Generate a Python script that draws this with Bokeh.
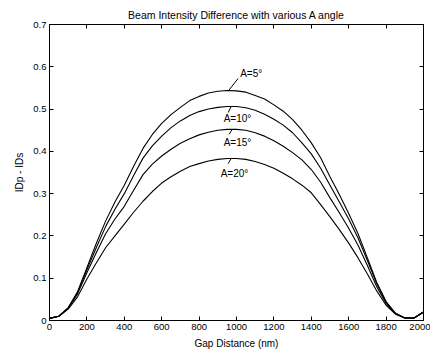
from bokeh.plotting import figure
from bokeh.models import LinearAxis, FixedTicker, Label, Range1d
from bokeh.embed import file_html
from bokeh.resources import INLINE

title_text = "Beam Intensity Difference with various A angle"
x_label = "Gap Distance (nm)"
y_label = "IDp - IDs"

gap_nm = [0, 50, 100, 150, 200, 250, 300, 350, 400, 450, 500, 550, 600, 650, 700, 750, 800, 850, 900, 950,
          1000, 1050, 1100, 1150, 1200, 1250, 1300, 1350, 1400, 1450, 1500, 1550, 1600, 1650, 1700, 1750,
          1800, 1850, 1900, 1950, 2000]
a5 = [0.005, 0.010, 0.030, 0.068, 0.125, 0.182, 0.235, 0.280, 0.320, 0.365, 0.407, 0.440, 0.466, 0.487,
      0.504, 0.520, 0.530, 0.538, 0.542, 0.544,
      0.543, 0.540, 0.532, 0.524, 0.510, 0.495, 0.475, 0.450, 0.420, 0.385, 0.340, 0.298, 0.253, 0.205,
      0.148, 0.090, 0.045, 0.017, 0.006, 0.006, 0.020]
a10 = [0.005, 0.010, 0.030, 0.066, 0.120, 0.172, 0.222, 0.263, 0.300, 0.343, 0.384, 0.413, 0.436, 0.456,
       0.472, 0.485, 0.494, 0.500, 0.504, 0.506,
       0.506, 0.503, 0.497, 0.488, 0.476, 0.462, 0.444, 0.420, 0.394, 0.360, 0.320, 0.280, 0.240, 0.195,
       0.142, 0.087, 0.043, 0.017, 0.006, 0.006, 0.020]
a15 = [0.005, 0.010, 0.029, 0.063, 0.113, 0.160, 0.205, 0.240, 0.270, 0.308, 0.345, 0.370, 0.389, 0.405,
       0.419, 0.430, 0.439, 0.445, 0.450, 0.452,
       0.452, 0.450, 0.444, 0.436, 0.425, 0.412, 0.397, 0.380, 0.357, 0.327, 0.290, 0.255, 0.218, 0.178,
       0.130, 0.080, 0.040, 0.016, 0.006, 0.006, 0.020]
a20 = [0.005, 0.010, 0.027, 0.056, 0.098, 0.136, 0.172, 0.200, 0.228, 0.256, 0.282, 0.305, 0.325, 0.340,
       0.353, 0.364, 0.371, 0.377, 0.381, 0.383,
       0.383, 0.381, 0.376, 0.369, 0.360, 0.348, 0.335, 0.320, 0.302, 0.274, 0.245, 0.215, 0.183, 0.148,
       0.110, 0.070, 0.036, 0.015, 0.006, 0.006, 0.020]
series = [("A=5°", a5), ("A=10°", a10), ("A=15°", a15), ("A=20°", a20)]

x_ticks = [0, 200, 400, 600, 800, 1000, 1200, 1400, 1600, 1800, 2000]
y_ticks = [0, 0.1, 0.2, 0.3, 0.4, 0.5, 0.6, 0.7]
y_tick_labels = ["0", "0.1", "0.2", "0.3", "0.4", "0.5", "0.6", "0.7"]

FONT = "Liberation Sans"

p = figure(width=430, height=354, output_backend="svg", toolbar_location=None,
           x_range=Range1d(0, 2000), y_range=Range1d(0, 0.7),
           x_axis_location=None, y_axis_location=None,
           min_border_left=49, min_border_right=7, min_border_top=24, min_border_bottom=34)
p.title.text = title_text
p.title.align = "center"
p.title.text_font = FONT
p.title.text_font_size = "10.5px"
p.title.text_font_style = "normal"
p.title.text_color = "black"
p.title.standoff = 8
p.grid.visible = False
p.outline_line_color = "black"
p.outline_line_width = 1
p.background_fill_color = "white"
p.border_fill_color = "white"


def make_axis(ticks, show_labels, label=None, overrides=None):
    ax = LinearAxis(ticker=FixedTicker(ticks=ticks))
    ax.major_tick_in = 4
    ax.major_tick_out = 0
    ax.minor_tick_in = 0
    ax.minor_tick_out = 0
    ax.axis_line_color = "black"
    ax.major_tick_line_color = "black"
    ax.major_label_text_font = FONT
    ax.major_label_text_font_size = "9.5px"
    ax.major_label_text_color = "black"
    ax.major_label_standoff = 3
    if overrides:
        ax.major_label_overrides = overrides
    if not show_labels:
        ax.major_label_text_alpha = 0
        ax.major_label_text_font_size = "1px"
        ax.major_label_standoff = 0
    if label:
        ax.axis_label = label
        ax.axis_label_text_font = FONT
        ax.axis_label_text_font_size = "10px"
        ax.axis_label_text_font_style = "normal"
        ax.axis_label_text_color = "black"
        ax.axis_label_standoff = 5
    return ax


p.add_layout(make_axis(x_ticks, True, x_label), "below")
p.add_layout(make_axis(y_ticks, True, y_label,
                       {t: l for t, l in zip(y_ticks, y_tick_labels)}), "left")
p.add_layout(make_axis(x_ticks, False), "above")
p.add_layout(make_axis(y_ticks, False), "right")

for name, vals in series:
    p.line(gap_nm, vals, line_color="black", line_width=1.1)

# labels with leader lines (offsets in screen pixels, converted to data units)
px_x = 2000 / 374.0
px_y = 0.7 / 296.0
idx = gap_nm.index(950)
# (dx_start, dy_start, dx_end, dy_end, text_dx, text_dy) in pixels relative to curve point at 950 nm
label_geom = [
    (1.5, 0, 11, 12, 13, 17),
    (4, 0, 1, -6, -3.5, -12),
    (5, 0, 2, -5, -3.5, -13),
    (4, 0, 1, -5, -6.5, -15),
]
for (name, vals), (sx, sy, ex, ey, tx, ty) in zip(series, label_geom):
    x0 = gap_nm[idx]
    y0 = vals[idx]
    p.line([x0 + sx * px_x, x0 + ex * px_x], [y0 + sy * px_y, y0 + ey * px_y],
           line_color="black", line_width=1)
    p.add_layout(Label(x=x0, y=y0, x_offset=tx, y_offset=ty, text=name,
                       text_font=FONT, text_font_size="10px", text_color="black",
                       text_baseline="middle"))

open("out.html", "w").write(file_html(p, INLINE))
